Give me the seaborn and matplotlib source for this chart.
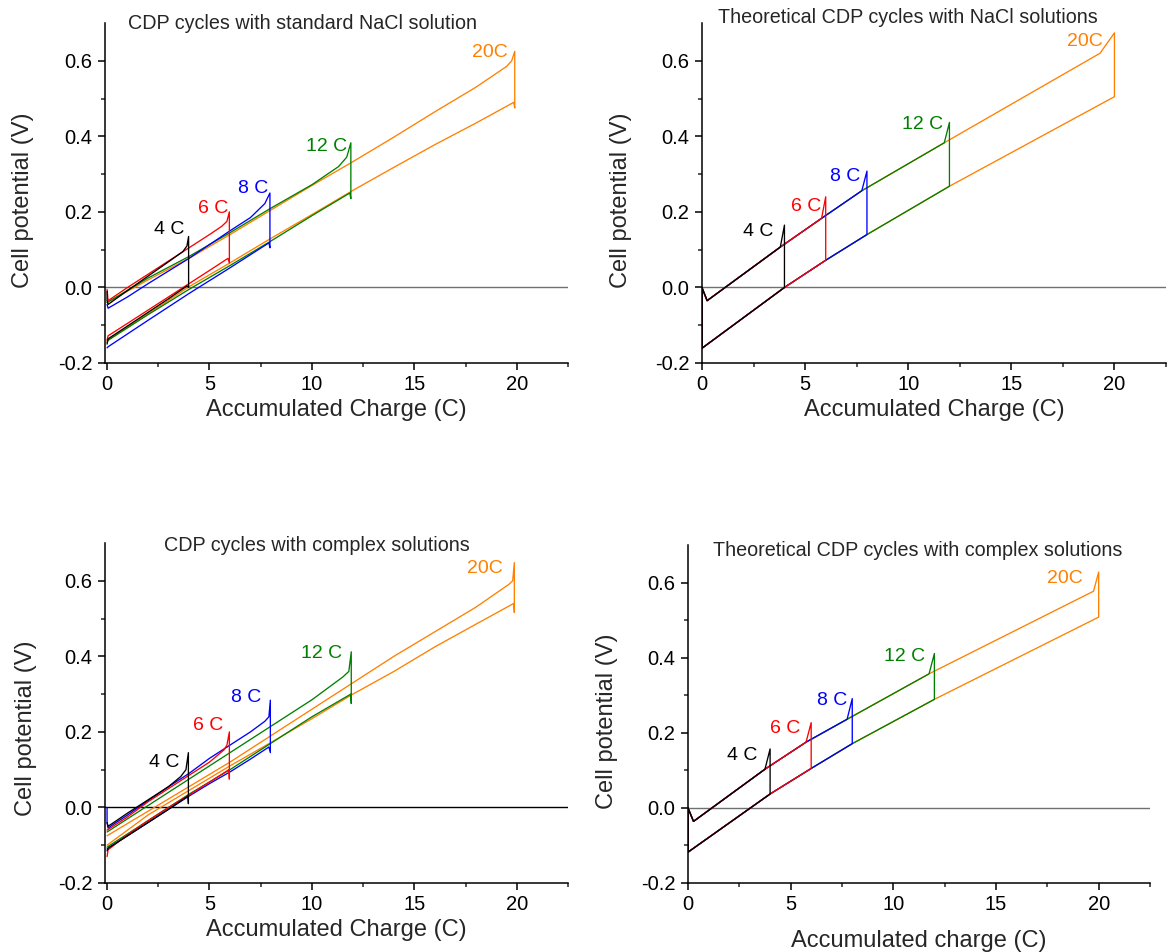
import matplotlib
matplotlib.use('Agg')
import matplotlib.pyplot as plt
import seaborn as sns
import pandas as pd
from matplotlib.ticker import FixedLocator

# cycles (charge passed per cycle) and their colours
cycle_names = ['4 C', '6 C', '8 C', '12 C', '20C']
cycle_charge = [4, 6, 8, 12, 20]
cycle_colors = ['#000000', '#FF0000', '#0000FF', '#008000', '#FF8000']

# measured CDP cycles, standard NaCl solution (charge / discharge loop)
nacl_4_x = [0, 0, 0.05, 1, 2, 3, 3.7, 3.9, 3.98, 3.98, 3.9, 3, 2, 1, 0.05, 0]
nacl_4_y = [-0.01, -0.035, -0.045, -0.008, 0.03, 0.068, 0.095, 0.11, 0.135, 0.0, 0.004,
            -0.03, -0.066, -0.102, -0.136, -0.15]
nacl_6_x = [0, 0.05, 1, 2, 3, 4, 5, 5.6, 5.85, 5.97, 5.97, 5.9, 5, 4, 3, 2, 1, 0.05, 0]
nacl_6_y = [-0.005, -0.035, 0.0, 0.035, 0.07, 0.105, 0.14, 0.162, 0.175, 0.2, 0.065, 0.077,
            0.045, 0.01, -0.025, -0.06, -0.095, -0.128, -0.14]
nacl_8_x = [0, 0.05, 1, 2, 4, 6, 7, 7.7, 7.95, 7.95, 7.9, 6, 4, 2, 0.05, 0]
nacl_8_y = [-0.045, -0.055, -0.025, 0.01, 0.077, 0.15, 0.185, 0.222, 0.25, 0.105, 0.118,
            0.052, -0.016, -0.087, -0.157, -0.16]
nacl_12_x = [0, 2, 4, 6, 8, 10, 11.3, 11.7, 11.9, 11.9, 11.85, 10, 8, 6, 4, 2, 0.05, 0]
nacl_12_y = [-0.04, 0.025, 0.082, 0.145, 0.21, 0.272, 0.32, 0.345, 0.383, 0.235, 0.25,
             0.19, 0.123, 0.058, -0.005, -0.072, -0.14, -0.145]
nacl_20_x = [0, 2, 4, 6, 8, 10, 12, 14, 16, 18, 19.5, 19.75, 19.9, 19.9, 19.85, 18, 16, 14,
             12, 10, 8, 6, 4, 2, 0]
nacl_20_y = [-0.04, 0.02, 0.077, 0.14, 0.205, 0.27, 0.333, 0.398, 0.465, 0.53, 0.585, 0.6,
             0.625, 0.475, 0.49, 0.435, 0.378, 0.318, 0.257, 0.193, 0.13, 0.065, 0.002,
             -0.07, -0.14]

# measured CDP cycles, complex solutions
cplx_4_x = [0, 0.05, 1, 2, 3, 3.6, 3.85, 3.97, 3.97, 3.95, 3, 2, 1, 0.05, 0]
cplx_4_y = [-0.04, -0.05, -0.015, 0.02, 0.055, 0.082, 0.1, 0.145, 0.01, 0.03, -0.005,
            -0.04, -0.075, -0.108, -0.115]
cplx_6_x = [0, 1, 2, 3, 4, 5, 5.7, 5.85, 5.97, 5.97, 5.95, 5, 4, 3, 2, 1, 0.05, 0]
cplx_6_y = [-0.06, -0.025, 0.015, 0.05, 0.085, 0.12, 0.152, 0.165, 0.2, 0.075, 0.1, 0.067,
            0.033, 0.0, -0.035, -0.072, -0.112, -0.13]
cplx_8_x = [0, 0, 0.05, 0.3, 1, 2, 3, 4, 5, 6, 7, 7.7, 7.9, 7.97, 7.97, 7.9, 7, 6, 5, 4,
            3, 2, 1, 0.05, 0]
cplx_8_y = [0.0, -0.04, -0.055, -0.045, -0.02, 0.018, 0.055, 0.09, 0.13, 0.165, 0.2, 0.228,
            0.24, 0.284, 0.145, 0.16, 0.128, 0.094, 0.063, 0.03, -0.005, -0.04, -0.075,
            -0.108, -0.11]
cplx_12_x = [0, 2, 4, 6, 8, 10, 11.5, 11.8, 11.92, 11.92, 11.9, 10, 8, 6, 4, 2, 0]
cplx_12_y = [-0.065, 0.005, 0.075, 0.145, 0.215, 0.285, 0.345, 0.36, 0.412, 0.275, 0.3,
             0.24, 0.17, 0.1, 0.035, -0.035, -0.105]
cplx_20_x = [0, 2, 4, 6, 8, 10, 12, 14, 16, 18, 19.6, 19.8, 19.88, 19.88, 19.85, 18, 16,
             14, 12, 10, 8, 6, 4, 2, 0]
cplx_20_y = [-0.075, -0.01, 0.055, 0.12, 0.19, 0.26, 0.33, 0.4, 0.465, 0.53, 0.59, 0.6,
             0.648, 0.516, 0.54, 0.485, 0.425, 0.36, 0.3, 0.235, 0.172, 0.11, 0.045,
             -0.02, -0.1]

# theoretical cycles, NaCl: shared charging branch, peak at end of charge, discharge branch
th_nacl_up_x = [0, 0.25, 3.8, 5.8, 7.75, 11.75, 19.3]
th_nacl_up_y = [0, -0.035, 0.107, 0.183, 0.256, 0.383, 0.62]
th_nacl_peak = [0.165, 0.240, 0.308, 0.437, 0.674]
th_nacl_low_x = [0, 4, 6, 8, 12, 20]
th_nacl_low_y = [-0.161, 0.0, 0.072, 0.14, 0.268, 0.505]

# theoretical cycles, complex solutions
th_cplx_up_x = [0, 0.27, 3.75, 5.75, 7.75, 11.74, 19.75]
th_cplx_up_y = [0, -0.036, 0.103, 0.175, 0.236, 0.357, 0.577]
th_cplx_peak = [0.157, 0.227, 0.291, 0.411, 0.628]
th_cplx_low_x = [0, 4, 6, 8, 12, 20]
th_cplx_low_y = [-0.118, 0.037, 0.105, 0.171, 0.289, 0.508]


def measuredFrame(xs, ys):
    '''
    Stack the measured loops into one long frame, one cycle per hue.
    '''
    parts = []
    for name, x, y in zip(cycle_names, xs, ys):
        parts.append(pd.DataFrame({'x': x, 'y': y, 'cycle': name}))
    return pd.concat(parts, ignore_index=True)


def theoryFrame(up_x, up_y, peak, low_x, low_y):
    '''
    Build each theoretical loop: charge branch up to Q, peak, drop, discharge back to 0.
    '''
    parts = []
    for i, (name, q) in enumerate(zip(cycle_names, cycle_charge)):
        x = up_x[:i + 3] + [q] + low_x[:i + 2][::-1] + [0]
        y = up_y[:i + 3] + [peak[i]] + low_y[:i + 2][::-1] + [0]
        parts.append(pd.DataFrame({'x': x, 'y': y, 'cycle': name}))
    return pd.concat(parts, ignore_index=True)


panels = [
    measuredFrame([nacl_4_x, nacl_6_x, nacl_8_x, nacl_12_x, nacl_20_x],
                  [nacl_4_y, nacl_6_y, nacl_8_y, nacl_12_y, nacl_20_y]),
    theoryFrame(th_nacl_up_x, th_nacl_up_y, th_nacl_peak, th_nacl_low_x, th_nacl_low_y),
    measuredFrame([cplx_4_x, cplx_6_x, cplx_8_x, cplx_12_x, cplx_20_x],
                  [cplx_4_y, cplx_6_y, cplx_8_y, cplx_12_y, cplx_20_y]),
    theoryFrame(th_cplx_up_x, th_cplx_up_y, th_cplx_peak, th_cplx_low_x, th_cplx_low_y),
]

titles = ['CDP cycles with standard NaCl solution',
          'Theoretical CDP cycles with NaCl solutions',
          'CDP cycles with complex solutions',
          'Theoretical CDP cycles with complex solutions']
xlabels = ['Accumulated Charge (C)', 'Accumulated Charge (C)',
           'Accumulated Charge (C)', 'Accumulated charge (C)']

# layout (figure fractions / data coords)
rects = [[0.0893, 0.6187, 0.3937, 0.3571],
         [0.5969, 0.6187, 0.3946, 0.3571],
         [0.0893, 0.0725, 0.3937, 0.3571],
         [0.5850, 0.0725, 0.3929, 0.3550]]
x_left = [-0.1, 0, -0.1, 0]
title_pos = [(9.55, 0.700), (9.98, 0.715), (10.25, 0.693), (11.18, 0.685)]
label_pos = [
    [(3.02, 0.153), (5.19, 0.209), (7.15, 0.261), (10.69, 0.374), (18.7, 0.623)],
    [(2.72, 0.149), (5.04, 0.213), (6.96, 0.293), (10.69, 0.431), (18.57, 0.652)],
    [(2.79, 0.119), (4.91, 0.218), (6.78, 0.292), (10.49, 0.408), (18.42, 0.633)],
    [(2.66, 0.140), (4.73, 0.211), (7.02, 0.286), (10.57, 0.404), (18.34, 0.612)],
]
ylabel_xy = [(-0.153, 0.48), (-0.151, 0.48), (-0.147, 0.455), (-0.152, 0.48)]
xlabel_y = [-0.105, -0.105, -0.105, -0.14]
zero_colors = ['#707070', '#707070', '#000000', '#707070']

sns.set_style('ticks')
plt.rcParams['font.family'] = ['Liberation Sans', 'DejaVu Sans']
plt.rcParams['axes.unicode_minus'] = False

palette = dict(zip(cycle_names, cycle_colors))
draw_order = cycle_names[::-1]

fig = plt.figure(figsize=(11.76, 9.52), dpi=100)

for i, df in enumerate(panels):
    ax = fig.add_axes(rects[i])

    # zero reference line under the loops
    ax.axhline(0, color=zero_colors[i], lw=1.0, zorder=1)

    sns.lineplot(data=df, x='x', y='y', hue='cycle', hue_order=draw_order,
                 palette=palette, estimator=None, sort=False, legend=False,
                 lw=0.95, ax=ax, zorder=2)

    # cycle labels next to the peaks
    for name, color, (lx, ly) in zip(cycle_names, cycle_colors, label_pos[i]):
        ax.text(lx, ly, name, color=color, fontsize=14, ha='center', va='center')

    ax.text(title_pos[i][0], title_pos[i][1], titles[i], fontsize=14.2,
            ha='center', va='center', clip_on=False)

    ax.set_xlim(x_left[i], 22.5)
    ax.set_ylim(-0.2, 0.7)
    ax.xaxis.set_major_locator(FixedLocator([0, 5, 10, 15, 20]))
    ax.xaxis.set_minor_locator(FixedLocator([2.5, 7.5, 12.5, 17.5, 22.5]))
    ax.yaxis.set_major_locator(FixedLocator([-0.2, 0.0, 0.2, 0.4, 0.6]))
    ax.yaxis.set_minor_locator(FixedLocator([-0.1, 0.1, 0.3, 0.5]))
    ax.set_yticklabels(['-0.2', '0.0', '0.2', '0.4', '0.6'])

    ax.tick_params(axis='both', which='major', length=5, width=1.1, labelsize=14.5,
                   direction='out', pad=4, colors='black')
    ax.tick_params(axis='both', which='minor', length=3, width=1.1, direction='out')

    # remove spines
    ax.spines['top'].set_visible(False)
    ax.spines['right'].set_visible(False)
    for side in ['left', 'bottom']:
        ax.spines[side].set_linewidth(1.1)
        ax.spines[side].set_color('black')

    ax.set_xlabel(xlabels[i], fontsize=17)
    ax.set_ylabel('Cell potential (V)', fontsize=17)
    ax.xaxis.set_label_coords(0.5, xlabel_y[i])
    ax.yaxis.set_label_coords(*ylabel_xy[i])

fig.savefig('out.png', dpi=100)
